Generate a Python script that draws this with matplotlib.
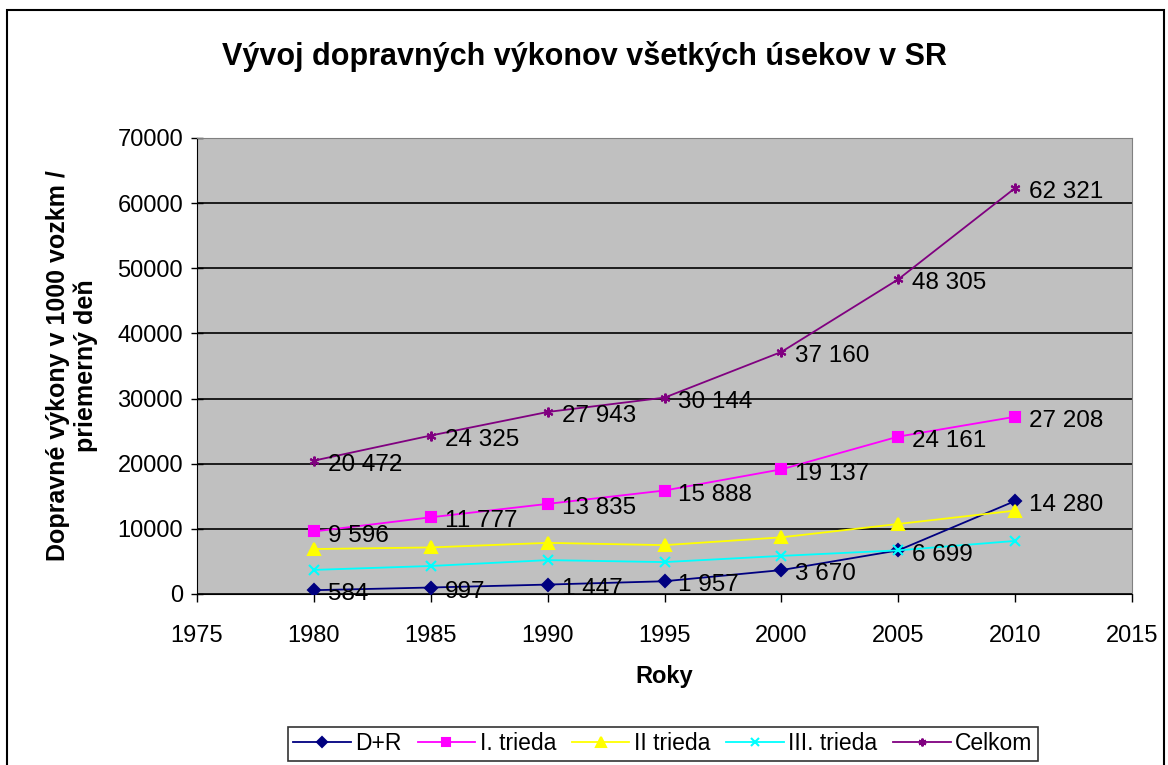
import matplotlib
matplotlib.use("Agg")
import matplotlib.pyplot as plt
from matplotlib.patches import Rectangle

plt.rcParams['font.family'] = ['Liberation Sans', 'DejaVu Sans']

years = [1980, 1985, 1990, 1995, 2000, 2005, 2010]
dr = [584, 997, 1447, 1957, 3670, 6699, 14280]
trieda1 = [9596, 11777, 13835, 15888, 19137, 24161, 27208]
trieda2 = [6900, 7150, 7850, 7500, 8700, 10750, 12800]
trieda3 = [3700, 4300, 5200, 4900, 5850, 6700, 8150]
celkom = [20472, 24325, 27943, 30144, 37160, 48305, 62321]

series = [
    ("D+R", dr, "#000080", "D", 6.5, True),
    ("I. trieda", trieda1, "#FF00FF", "s", 7, True),
    ("II trieda", trieda2, "#FFFF00", "^", 9, False),
    ("III. trieda", trieda3, "#00FFFF", "x", 7, False),
    ("Celkom", celkom, "#800080", (6, 2, 0), 7, True),
]


def fmt(v):
    return f"{v:,}".replace(",", " ")


fig = plt.figure(figsize=(11.68, 7.65), dpi=100)
ax = fig.add_axes([197 / 1168, 1 - 594 / 765, 935 / 1168, 456 / 765])
ax.set_facecolor("#C0C0C0")

# outer chart border
fig.patches.append(Rectangle((7 / 1168, -0.01), 1157 / 1168, 1 - 10 / 765 + 0.01,
                             transform=fig.transFigure, fill=False,
                             edgecolor="black", linewidth=1.5))

for name, vals, color, marker, ms, labels in series:
    ax.plot(years, vals, color=color, marker=marker, markersize=ms,
            linewidth=1.3, markeredgecolor=color, markeredgewidth=1.5,
            label=name, zorder=3)
    if labels:
        for x, y in zip(years, vals):
            ax.annotate(fmt(y), (x, y), xytext=(10, -3), textcoords="offset points",
                        fontsize=17.5, va="center", ha="left", zorder=4)

ax.set_xlim(1975, 2015)
ax.set_ylim(0, 70000)
ax.set_xticks(range(1975, 2016, 5))
ax.set_yticks(range(0, 70001, 10000))
ax.tick_params(labelsize=17, direction="out", length=6, width=1, colors="black")
ax.tick_params(axis="x", pad=16)
ax.tick_params(axis="y", pad=6, direction="inout", length=8)
ax.grid(axis="y", color="black", linewidth=1.2)
ax.set_axisbelow(True)
for side in ["top", "right"]:
    ax.spines[side].set_color("#808080")
for side in ["left", "bottom"]:
    ax.spines[side].set_color("black")

ax.set_xlabel("Roky", fontsize=17, fontweight="bold", labelpad=13)
ax.set_ylabel("Dopravné výkony v 1000 vozkm /\npriemerný deň", fontsize=18,
              fontweight="bold", labelpad=14)
fig.text(0.5, 1 - 57 / 765, "Vývoj dopravných výkonov všetkých úsekov v SR",
         fontsize=22, fontweight="bold", ha="center", va="center")

leg = fig.legend(loc="center", bbox_to_anchor=(663 / 1168, 1 - 744 / 765), ncol=5,
                 fontsize=16.5, frameon=True, fancybox=False, edgecolor="black",
                 handlelength=2.5, handletextpad=0.2, columnspacing=0.7,
                 borderpad=0.25, markerscale=0.8)
leg.get_frame().set_linewidth(1.2)

fig.savefig("out.png", dpi=100)
